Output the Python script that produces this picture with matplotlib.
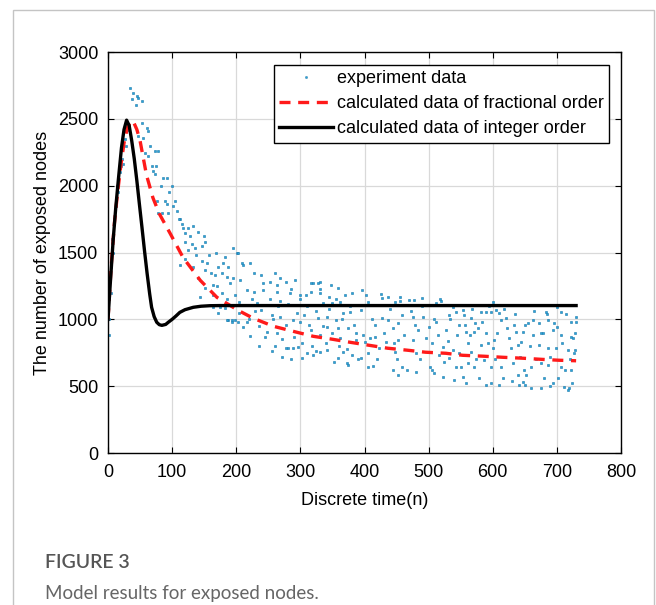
import numpy as np
import matplotlib
matplotlib.use("Agg")
import matplotlib.pyplot as plt
from matplotlib.patches import Rectangle

# experiment data (approximate)
exp_n = [1, 2, 4, 5, 6, 8, 10, 12, 14, 15, 16, 18, 21, 22, 24, 26, 28, 30, 32,
         34, 39, 45, 37, 47, 53, 43, 53, 61, 62, 47, 55, 58, 62, 73, 78, 69, 70, 73,
         86, 92, 100, 77, 89, 92, 105, 94, 78, 84, 108, 116, 117, 125, 133, 120, 113,
         120, 131, 136, 147, 152, 125, 113, 133, 147, 152, 120, 141, 152, 144, 163, 164,
         164, 175, 183, 187, 194, 202,
         195, 201, 203, 180, 172, 187, 209, 211, 222, 167, 178, 186, 195, 206, 227, 238,
         261, 269, 242, 253, 264, 277, 292, 316, 331, 347, 359, 217, 227, 242, 264, 284,
         300, 316, 331, 344, 172, 186, 194, 198, 217, 238, 256, 269, 289, 305, 327, 342,
         222, 248, 264, 300, 316, 331, 342, 355, 261, 277, 281, 289, 297, 311, 320, 331,
         342, 352, 359, 272, 303,
         212, 232, 250, 280, 310, 335, 225, 268, 300, 350, 319, 328,
         370, 381, 362, 397, 406, 428, 437, 448, 469, 477, 511, 527, 538, 553, 366, 378,
         394, 428, 437, 459, 475, 492, 511, 531, 542, 359, 375, 386, 417, 444, 453, 484,
         500, 527, 547, 362, 386, 398, 409, 417, 433, 453, 475, 506, 522, 538, 547, 366,
         381, 394, 406, 422, 448, 480, 500, 516, 531, 373, 375, 406, 414, 444, 452, 459,
         480, 506, 508, 522, 539, 553, 542,
         581, 589, 597, 605, 609, 683, 706, 730, 555, 566, 573, 577, 613, 620, 633, 655,
         662, 672, 686, 695, 722, 730, 558, 570, 589, 623, 636, 647, 644, 662, 678, 694,
         706, 722, 725, 561, 566, 581, 600, 602, 628, 639, 672, 686, 698, 717, 727, 728,
         561, 570, 586, 597, 613, 631, 648, 659, 675, 686, 706, 722, 558, 589, 597, 609,
         639, 641, 647, 659, 675, 694, 711, 719, 717,
         402, 455, 490, 520, 560, 600, 640, 700,
         65, 75, 82, 95, 102, 110, 128, 138, 155, 160, 170, 178, 185, 190, 198, 205, 158,
         168, 182, 140, 150,
         205, 210, 220, 230, 236, 245, 252, 258, 265, 272, 278, 285, 290, 295, 302, 308,
         313, 318, 325, 330, 336, 340, 345, 350, 356, 360, 235, 255, 285, 325,
         365, 372, 378, 384, 390, 396, 400, 411, 420, 425, 430, 440, 446, 450, 456, 462,
         466, 472, 478, 486, 490, 496, 502, 508, 514, 518, 524, 530, 534, 544, 550, 556,
         564, 568, 574, 578, 584, 592, 594, 604, 607, 616, 618, 626, 630, 634, 642, 650,
         652, 658, 664, 668, 676, 680, 684, 690, 700, 702, 708, 714, 720, 724, 728, 712,
         690, 650]
exp_y = [880, 1000, 1200, 1390, 1600, 1500, 1750, 1850, 2000, 1950, 2050, 2100, 2150, 2200,
         2160, 2350, 2300, 2420, 2450,
         2731, 2694, 2672, 2649, 2657, 2634, 2604, 2470, 2433, 2410, 2373, 2358, 2246, 2224,
         2261, 2261, 2149, 2112, 2090, 2060, 2060, 2000, 1888, 1888, 1866, 1888, 1798, 1798,
         1798, 1813, 1716, 1686, 1686, 1701, 1649, 1754, 1575, 1567, 1530, 1552, 1575, 1515,
         1403, 1388, 1440, 1366, 1455, 1306, 1231, 1164, 1254, 1179,
         1090, 1090, 1082, 993, 978, 978,
         1530, 1493, 1500, 1425, 1388, 1388, 1425, 1403, 1418, 1328, 1343, 1313, 1306, 1291,
         1343, 1328, 1343, 1306, 1269, 1276, 1254, 1276, 1291, 1269, 1276, 1254, 1231, 1216,
         1201, 1216, 1201, 1194, 1179, 1201, 1194, 1164, 1045, 993, 993, 993, 978, 1067,
         1030, 1015, 993, 1030, 1007, 1015, 873, 903, 896, 978, 918, 881, 940, 993, 799,
         784, 784, 784, 791, 746, 731, 754, 769, 679, 709, 716, 709,
         1110, 1120, 1105, 1115, 1100, 1125, 1150, 1140, 1150, 1120, 1269, 1269,
         1179, 1194, 1127, 1104, 1127, 1157, 1164, 1127, 1142, 1142, 1119, 1104, 1090, 1067,
         1045, 1052, 1067, 1007, 993, 1030, 1015, 1015, 978, 1030, 1052, 933, 933, 896, 955,
         933, 970, 918, 940, 918, 955, 858, 843, 881, 858, 866, 828, 843, 843, 821, 791, 769,
         746, 754, 731, 709, 746, 784, 754, 746, 754, 731, 709, 672, 657, 642, 649, 619, 582,
         642, 604, 619, 597, 567, 545, 567, 642,
         1052, 1052, 1052, 1067, 1045, 1052, 1052, 1015, 1030, 1007, 970, 933, 993, 1007, 955,
         970, 993, 970, 993, 970, 978, 978, 903, 903, 896, 933, 903, 903, 828, 881, 896, 918,
         881, 866, 858, 821, 754, 806, 784, 843, 784, 806, 806, 784, 784, 769, 746, 769,
         672, 642, 694, 642, 642, 672, 619, 642, 672, 657, 642, 619, 522, 507, 522, 507,
         582, 507, 530, 485, 485, 522, 492, 485, 470,
         1180, 1170, 1160, 1140, 1110, 1130, 1110, 1090,
         2300, 2150, 2000, 1950, 1850, 1750, 1620, 1480, 1420, 1350, 1250, 1200, 1150, 1270,
         1180, 1130, 1480, 1500, 1470, 1650, 1620,
         1050, 940, 1000, 1060, 950, 870, 1150, 1000, 1100, 850, 960, 1230, 870, 1050, 820,
         1180, 960, 800, 1060, 1230, 950, 820, 1080, 900, 1150, 800, 800, 760, 700, 760,
         1000, 780, 1100, 960, 700, 1220, 830, 1000, 700, 1190, 900, 1080, 820, 700, 1140,
         880, 620, 1060, 960, 700, 1100, 860, 640, 1000, 880, 1150, 680, 840, 1000, 880, 640,
         960,
         880, 1080, 700, 560, 980, 820, 1100, 700, 900, 560, 1080, 860, 540, 1040, 720, 960,
         580, 800, 1060, 700, 900, 560, 1040, 720, 940, 560, 820, 1040, 700, 520, 900, 620,
         500, 510]

# fractional order model
frac_n = [0, 5, 10, 15, 20, 25, 30, 35, 39, 45, 50, 60, 70, 80, 97, 117, 144, 170, 203,
          227, 258, 289, 320, 350, 378, 436, 467, 495, 527, 553, 586, 616, 647, 675, 703, 730]
frac_y = [1000, 1400, 1720, 1950, 2150, 2320, 2430, 2480, 2485, 2420, 2336, 2080, 1910,
          1790, 1642, 1463, 1291, 1164, 1067, 1007, 948, 910, 873, 851, 828, 784, 769, 754,
          746, 731, 724, 716, 709, 701, 694, 690]

# integer order model
int_n = [0, 4, 8, 12, 16, 21, 25, 29, 33, 37, 41, 45, 49, 53, 57, 61, 65, 68, 72, 76, 80,
         84, 90, 94, 100, 106, 112, 120, 133, 145, 159, 175, 200, 730]
int_y = [1000, 1300, 1590, 1830, 2037, 2283, 2420, 2490, 2450, 2336, 2200, 2037, 1860,
         1687, 1510, 1343, 1190, 1090, 1020, 978, 960, 955, 962, 978, 1000, 1025, 1052, 1072,
         1090, 1098, 1102, 1103, 1103, 1103]

plt.rcParams['font.family'] = ['Liberation Sans', 'DejaVu Sans']

fig = plt.figure(figsize=(6.56, 6.05), dpi=100)
fig.patches.append(Rectangle((13/656, -0.1), 641/656, 1.1 - 10/605,
                             transform=fig.transFigure, fill=False,
                             edgecolor='#c4c4c4', linewidth=1.0))

ax = fig.add_axes([108/656, 1 - 453/605, 513/656, 401/605])

ax.plot(exp_n, exp_y, linestyle='none', marker='s', markersize=2.0,
        color='#27a3dc', markeredgewidth=0.4, markeredgecolor='#1a78a8',
        label='experiment data')
ax.plot(frac_n, frac_y, color='#ff1a1a', linewidth=2.4, dashes=(3.3, 2.3),
        label='calculated data of fractional order')
ax.plot(int_n, int_y, color='black', linewidth=2.4,
        label='calculated data of integer order')

ax.set_xlim(0, 800)
ax.set_ylim(0, 3000)
ax.set_xticks(np.arange(0, 801, 100))
ax.set_yticks(np.arange(0, 3001, 500))
ax.grid(True, color='#d9d9d9', linewidth=0.9)
ax.set_axisbelow(True)
ax.tick_params(direction='in', top=True, right=True, labelsize=13, length=4)
ax.tick_params(axis='x', pad=8)
ax.tick_params(axis='y', pad=7)
for s in ax.spines.values():
    s.set_linewidth(1.0)

ax.set_xlabel('Discrete time(n)', fontsize=13, labelpad=8)
ax.set_ylabel('The number of exposed nodes', fontsize=13, labelpad=5)

leg = ax.legend(loc='upper right', bbox_to_anchor=(0.977, 0.968), fontsize=13,
                frameon=True, fancybox=False, edgecolor='black', framealpha=1,
                handlelength=3.0, handletextpad=0.2, borderpad=0.3,
                labelspacing=0.45, borderaxespad=0, markerscale=0.6)
leg.get_frame().set_linewidth(1.0)

fig.text(45/656, 1 - 563/605, 'FIGURE 3', fontsize=14, color='#555555',
         family='Lato', fontweight='semibold', va='center', ha='left')
fig.text(45/656, 1 - 593/605, 'Model results for exposed nodes.', fontsize=13.5,
         color='#666666', family='Lato', fontweight='normal', va='center', ha='left')

fig.savefig('out.png', dpi=100)
